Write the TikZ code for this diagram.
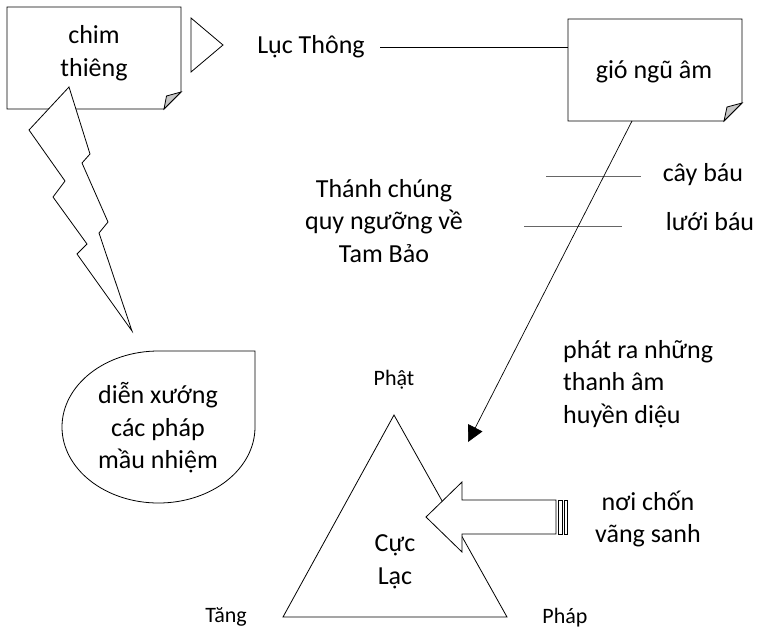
\documentclass[tikz,border=0pt]{standalone}
\usepackage{fontspec}
\setmainfont{Carlito}
\usetikzlibrary{arrows.meta}
\begin{document}
\begin{tikzpicture}[x=1pt,y=-1pt,
  shp/.style={draw=black,line width=0.8pt,fill=white,line join=miter},
  fold/.style={draw=black,line width=0.8pt,fill=black!22},
  big/.style={font=\fontsize{26}{32.5}\selectfont,align=center,inner sep=0pt},
  small/.style={font=\fontsize{22}{27}\selectfont,inner sep=0pt},
  thin/.style={draw=black!60,line width=0.8pt},
  conn/.style={draw=black,line width=0.7pt}]
\useasboundingbox (0,0) rectangle (761,633);
% chim thieng note
\coordinate (c1) at (7,7);
\coordinate (c2) at (181,7);
\coordinate (c3) at (181,92);
\coordinate (c4) at (164,109);
\coordinate (c5) at (7,109);
\path[shp] (c1) -- (c2) -- (c3) -- (c4) -- (c5) -- cycle;
\path[fold] (c4) -- (166.5,96) -- (c3) -- cycle;
% lightning bolt
\path[shp] (69,87) -- (29,130) -- (65,181) -- (53,197) -- (87,244) -- (77,254)
  -- (132,331) -- (99,233) -- (108,222) -- (82,163) -- (90,154) -- cycle;
\node[big] (chim) at (94,53) {chim\\thiêng};
% small triangle
\path[shp] (191,18) -- (223,45) -- (191,72) -- cycle;
% gio ngu am note
\coordinate (g1) at (568,19);
\coordinate (g2) at (742,19);
\coordinate (g3) at (742,103);
\coordinate (g4) at (724,121);
\coordinate (g5) at (568,121);
\path[shp] (g1) -- (g2) -- (g3) -- (g4) -- (g5) -- cycle;
\path[fold] (g4) -- (727,107) -- (g3) -- cycle;
\node[big] (gio) at (654,72) {gió ngũ âm};
% Luc Thong
\node[big] (luc) at (311,47) {Lục Thông};
\coordinate (lucend) at (380,47);
\coordinate (gioleft) at (568,47);
\draw[conn] (lucend) -- (gioleft);
% short lines and labels
\coordinate (l1a) at (546,176);
\coordinate (l1b) at (641,176);
\coordinate (l2a) at (524,226);
\coordinate (l2b) at (622,226);
\draw[thin] (l1a) -- (l1b);
\draw[thin] (l2a) -- (l2b);
\node[big] (cay) at (703,175) {cây báu};
\node[big] (luoi) at (710,222) {lưới báu};
\node[big] (thanh) at (384,221) {Thánh chúng\\quy ngưỡng về\\Tam Bảo};
\node[big,align=left,anchor=west] (phat) at (563,384) {phát ra những\\thanh âm\\huyền diệu};
% speech bubble
\path[shp] (158.5,351) -- (255,351) -- (255,427)
  .. controls (255,469) and (211.8,503) .. (158.5,503)
  .. controls (105.2,503) and (62,469) .. (62,427)
  .. controls (62,385) and (105.2,351) .. (158.5,351) -- cycle;
\node[big] (dien) at (158,428) {diễn xướng\\các pháp\\mầu nhiệm};
% triangle
\coordinate (tA) at (394,415);
\coordinate (tB) at (283,617);
\coordinate (tC) at (507,617);
\path[shp] (tA) -- (tB) -- (tC) -- cycle;
\node[big] (cuc) at (395,562) {Cực\\Lạc};
\node[small] (pphat) at (394,380) {Phật};
\node[small] (tang) at (226,617) {Tăng};
\node[small] (phap) at (565,618) {Pháp};
% block arrow
\path[shp] (426,517) -- (462,482) -- (462,500) -- (556,500) -- (556,534)
  -- (462,534) -- (462,552) -- cycle;
\path[shp] (558,500) rectangle (562,534);
\path[shp] (564,500) rectangle (567,534);
\node[big] (noi) at (648,519) {nơi chốn\\vãng sanh};
% connector from gio to triangle
\coordinate (giobot) at (632,121);
\coordinate (tip) at (468,442);
\draw[conn,-{Triangle[length=16pt,width=16pt]}] (giobot) -- (tip);
\end{tikzpicture}
\end{document}
